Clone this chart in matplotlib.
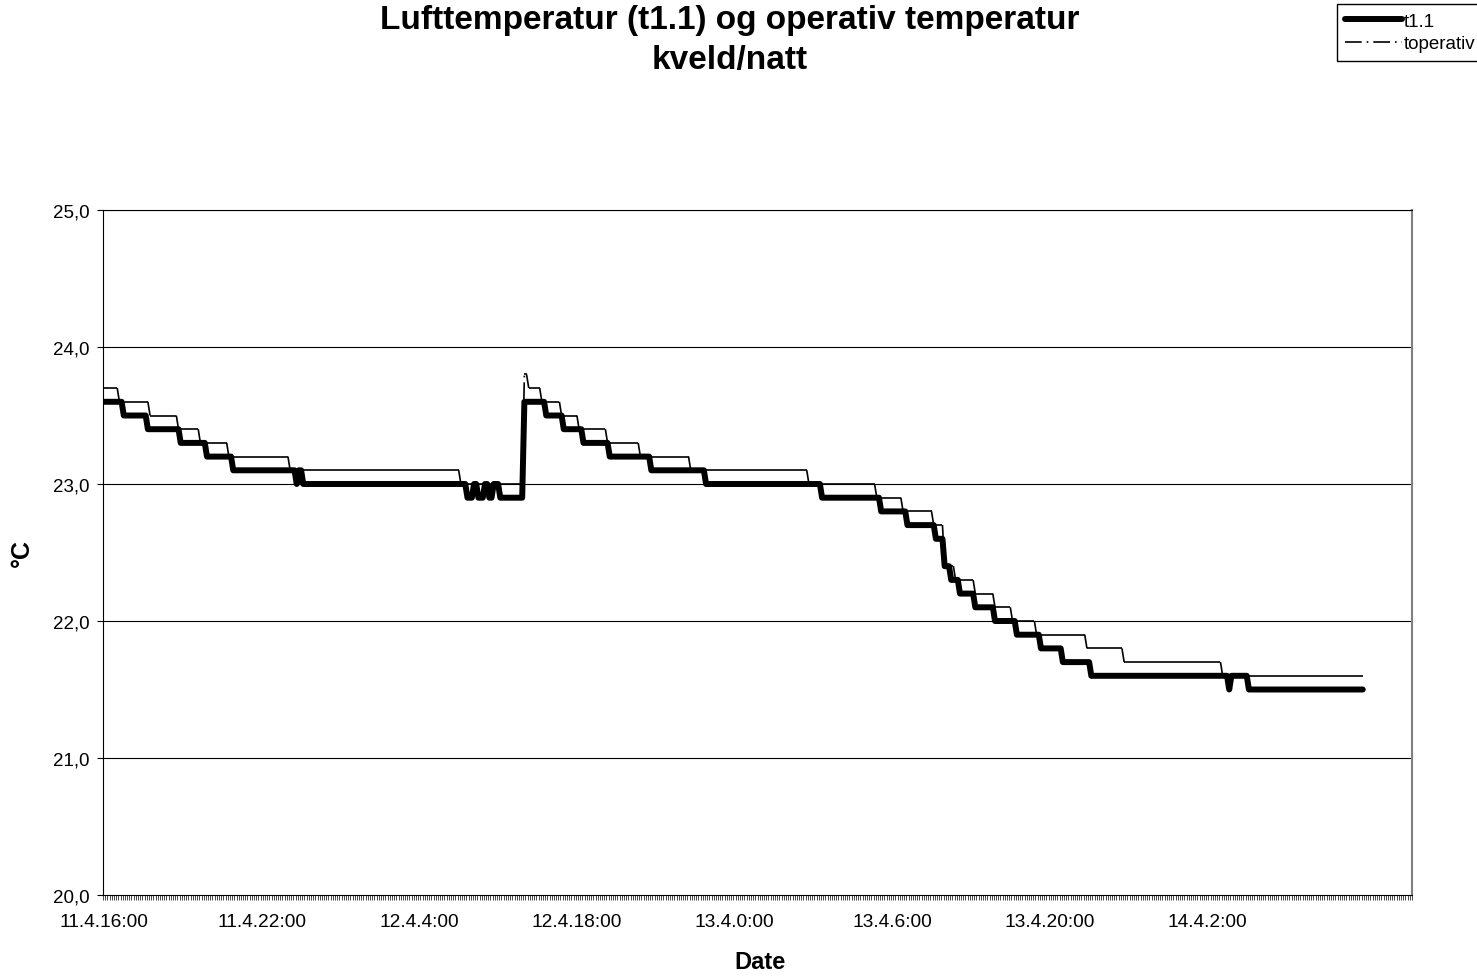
import numpy as np
import pandas as pd
import matplotlib
matplotlib.use("Agg")
import matplotlib.pyplot as plt
from matplotlib.collections import LineCollection
from matplotlib.lines import Line2D

plt.rcParams['font.family'] = ['Liberation Sans', 'DejaVu Sans']

# ---- data -------------------------------------------------------------
night_starts = ["2000-04-11 16:00", "2000-04-12 16:00", "2000-04-13 16:00"]
points_per_night = 192          # 16 h of 5-minute readings
n_blank = 22                    # empty category rows at the end of the range
label_interval = 72

# air temperature t1.1 as (level, number of readings) runs
t11_levels = [23.6, 23.5, 23.4, 23.3, 23.2, 23.1, 23.0, 23.1, 23.0, 22.9, 23.0, 22.9, 23.0, 22.9, 23.0, 22.9,
              23.6, 23.5, 23.4, 23.3, 23.2, 23.1, 23.0, 22.9, 22.8, 22.7, 22.6,
              22.4, 22.3, 22.2, 22.1, 22.0, 21.9, 21.8, 21.7, 21.6, 21.5, 21.6, 21.5]
t11_runs = [9, 11, 15, 12, 12, 29, 1, 2, 75, 3, 2, 3, 2, 2, 3, 11,
            10, 8, 9, 12, 19, 25, 53, 27, 12, 13, 4,
            3, 4, 7, 9, 10, 11, 10, 13, 63, 1, 8, 53]

# operative temperature as (level, number of readings) runs
top_levels = [23.7, 23.6, 23.5, 23.4, 23.3, 23.2, 23.1, 23.0,
              23.8, 23.7, 23.6, 23.5, 23.4, 23.3, 23.2, 23.1, 23.0, 22.9, 22.8, 22.7,
              22.4, 22.3, 22.2, 22.1, 22.0, 21.9, 21.8, 21.7, 21.6]
top_runs = [7, 14, 13, 10, 13, 28, 78, 29,
            2, 6, 9, 8, 13, 15, 23, 54, 31, 12, 14, 5,
            5, 9, 9, 8, 11, 23, 17, 45, 65]

series_names = ["t1.1", "toperativ"]
y_ticks = [20, 21, 22, 23, 24, 25]

# ---- build category axis ---------------------------------------------
categories = []
for s in night_starts:
    for d in pd.date_range(s, periods=points_per_night, freq="5min"):
        categories.append(f"{d.day}.{d.month}.{d.hour}:{d.minute:02d}")
categories += [""] * n_blank
n_cat = len(categories)

t11 = np.repeat(t11_levels, t11_runs)
top = np.repeat(top_levels, top_runs)
x = np.arange(len(t11))

# ---- figure -----------------------------------------------------------
W, H = 1477, 979
fig = plt.figure(figsize=(W / 100, H / 100), dpi=100)
L, R, T, B = 103, 1412, 211, 896
ax = fig.add_axes([L / W, 1 - B / H, (R - L) / W, (B - T) / H])

for yv in y_ticks[1:]:
    ax.axhline(yv, color='black', lw=0.8, zorder=1)

thin_ls = (0, (10, 3, 1, 3))
segs = np.stack([np.column_stack([x[:-1], top[:-1]]), np.column_stack([x[1:], top[1:]])], axis=1)
lc = LineCollection(segs, colors='black', linewidths=1.2, linestyles=[thin_ls], zorder=3)
ax.add_collection(lc)

ax.plot(x, t11, color='black', lw=4.3, solid_joinstyle='round', solid_capstyle='round', zorder=4)

ax.set_xlim(-0.5, n_cat - 0.5)
ax.set_ylim(y_ticks[0], y_ticks[-1])

ax.set_xticks(np.arange(n_cat + 1) - 0.5)
ax.set_xticklabels([])
ax.tick_params(axis='x', which='major', direction='out', length=3.6, width=0.5, color='black')
lab_pos = np.arange(0, n_cat, label_interval)
lab_pos = [p for p in lab_pos if categories[p]]
ax.set_xticks(lab_pos, minor=True)
ax.set_xticklabels([categories[p] for p in lab_pos], minor=True, fontsize=13.8)
ax.tick_params(axis='x', which='minor', length=0, pad=13)

ax.set_yticks(y_ticks)
ax.set_yticklabels([f"{v:.1f}".replace('.', ',') for v in y_ticks], fontsize=13.5)
ax.tick_params(axis='y', direction='out', length=4.5, width=0.8, pad=5)

ax.spines['left'].set_color('black')
ax.spines['bottom'].set_color('black')
ax.spines['top'].set_color('black')
ax.spines['top'].set_linewidth(0.8)
ax.spines['right'].set_color('#808080')
ax.spines['right'].set_linewidth(1.5)

fig.text(0.494, 1 - 21 / H, "Lufttemperatur (t1.1) og operativ temperatur", ha='center', va='center',
         fontsize=24, fontweight='bold')
fig.text(0.494, 1 - 60 / H, "kveld/natt", ha='center', va='center', fontsize=24, fontweight='bold')

fig.text((L + R) / 2 / W + 3 / W, 1 - 963 / H, "Date", ha='center', va='center', fontsize=17, fontweight='bold')
fig.text(22 / W, 1 - 553 / H, "°C", ha='center', va='center', fontsize=18, fontweight='bold', rotation=90)

handles = [Line2D([], [], color='black', lw=4.3, solid_capstyle='round'),
           Line2D([], [], color='black', lw=1.2, linestyle=thin_ls)]
leg = fig.legend(handles, series_names, loc='upper left', bbox_to_anchor=(1337 / W, 1 - 5 / H),
                 fontsize=13.5, frameon=True, fancybox=False, edgecolor='black', framealpha=1,
                 handlelength=3.0, handletextpad=0.1, borderpad=0.45, labelspacing=0.3,
                 borderaxespad=0)
leg.get_frame().set_linewidth(1.0)

fig.savefig("out.png", dpi=100)
